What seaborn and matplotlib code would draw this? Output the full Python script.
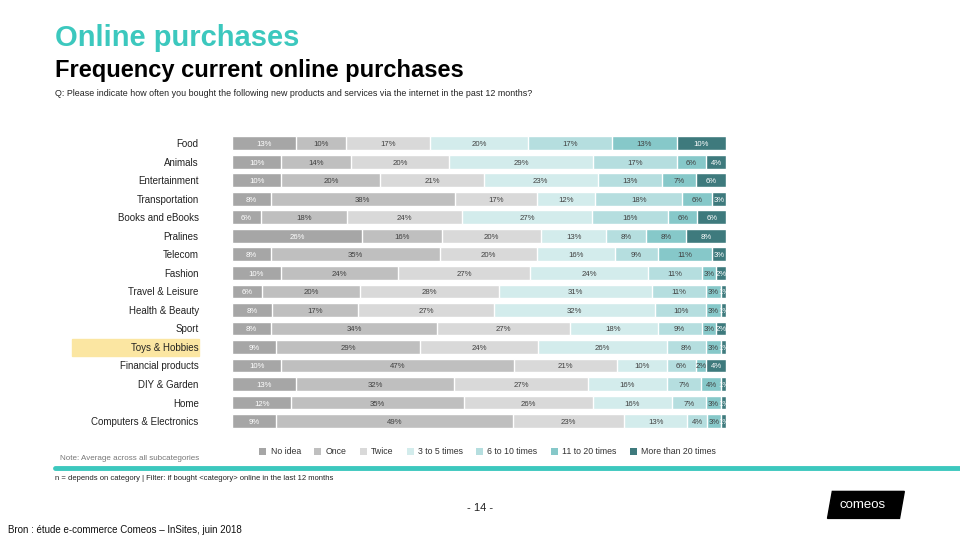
"""
Online purchases - frequency current online purchases (stacked 100% bars).
"""

import matplotlib

matplotlib.use("Agg")

import matplotlib.pyplot as plt
import numpy as np
import pandas as pd
import seaborn as sns
from matplotlib.patches import Patch, Polygon, Rectangle

CATEGORIES = [
    "Food", "Animals", "Entertainment", "Transportation", "Books and eBooks",
    "Pralines", "Telecom", "Fashion", "Travel & Leisure", "Health & Beauty",
    "Sport", "Toys & Hobbies", "Financial products", "DIY & Garden", "Home",
    "Computers & Electronics",
]

SEGMENTS = ["No idea", "Once", "Twice", "3 to 5 times", "6 to 10 times",
            "11 to 20 times", "More than 20 times"]

no_idea = [13, 10, 10, 8, 6, 26, 8, 10, 6, 8, 8, 9, 10, 13, 12, 9]
once = [10, 14, 20, 38, 18, 16, 35, 24, 20, 17, 34, 29, 47, 32, 35, 49]
twice = [17, 20, 21, 17, 24, 20, 20, 27, 28, 27, 27, 24, 21, 27, 26, 23]
three_to_five = [20, 29, 23, 12, 27, 13, 16, 24, 31, 32, 18, 26, 10, 16, 16, 13]
six_to_ten = [17, 17, 13, 18, 16, 8, 9, 11, 11, 10, 9, 8, 6, 7, 7, 4]
eleven_to_twenty = [13, 6, 7, 6, 6, 8, 11, 3, 3, 3, 3, 3, 2, 4, 3, 3]
more_than_twenty = [10, 4, 6, 3, 6, 8, 3, 2, 1, 1, 2, 1, 4, 1, 1, 1]

COLORS = ["#a6a6a6", "#bfbfbf", "#d9d9d9", "#d3ecec", "#b5dedf", "#86c8c9", "#3e7a7d"]
LABEL_COLORS = ["white", "#404040", "#404040", "#404040", "#404040", "#404040", "white"]
TEAL = "#3cc8be"
FONT = ["Liberation Sans", "DejaVu Sans"]


def main():
    sns.set_theme(style="white")
    plt.rcParams["font.family"] = FONT

    df = pd.DataFrame(
        {
            SEGMENTS[0]: no_idea,
            SEGMENTS[1]: once,
            SEGMENTS[2]: twice,
            SEGMENTS[3]: three_to_five,
            SEGMENTS[4]: six_to_ten,
            SEGMENTS[5]: eleven_to_twenty,
            SEGMENTS[6]: more_than_twenty,
        },
        index=CATEGORIES,
    )
    # bars are drawn as 100% stacked, labels keep the published rounded values
    widths = df.div(df.sum(axis=1), axis=0) * 100
    cum = widths.cumsum(axis=1)

    fig = plt.figure(figsize=(9.6, 5.4), dpi=100)
    ax = fig.add_axes([0.2417, 0.2031, 0.5146, 0.549])
    ax.patch.set_alpha(0)

    # highlight behind "Toys & Hobbies"
    fig.patches.append(Rectangle((0.075, 0.3407), 0.1323, 0.0315,
                                 transform=fig.transFigure, color="#fbe6a2",
                                 zorder=-1))

    # seaborn stacked bars: draw cumulative totals from the right-most segment down
    for i in reversed(range(len(SEGMENTS))):
        sns.barplot(x=cum.iloc[:, i].values, y=CATEGORIES, orient="h",
                    color=COLORS[i], saturation=1, width=0.74, ax=ax)

    ypos = np.arange(len(CATEGORIES))
    for i, seg in enumerate(SEGMENTS):
        centers = cum[seg] - widths[seg] / 2
        for y, xc, v in zip(ypos, centers, df[seg]):
            ax.text(xc, y + 0.08, f"{v}%", ha="center", va="center",
                    fontsize=5.6, color=LABEL_COLORS[i])

    ax.set_xlim(0, 100)
    ax.set_ylim(len(CATEGORIES) - 0.5, -0.5)
    ax.set_xlabel("")
    ax.set_ylabel("")
    ax.set_xticks([])
    ax.tick_params(axis="y", length=0, pad=24, labelsize=7, labelcolor="#222222")
    for s in ax.spines.values():
        s.set_visible(False)

    # legend
    handles = [Patch(facecolor=c, edgecolor="none") for c in COLORS]
    fig.legend(handles, SEGMENTS, loc="center", bbox_to_anchor=(0.508, 0.163),
               ncol=7, frameon=False, fontsize=6.3, handlelength=0.8,
               handleheight=0.8, handletextpad=0.5, columnspacing=1.5,
               labelcolor="#333333")

    # header
    fig.text(0.057, 0.93, "Online purchases", fontsize=21, fontweight="bold",
             color=TEAL, va="center")
    fig.text(0.057, 0.87, "Frequency current online purchases", fontsize=17,
             fontweight="bold", color="black", va="center")
    fig.text(0.057, 0.826,
             "Q: Please indicate how often you bought the following new products "
             "and services via the internet in the past 12 months?",
             fontsize=6.4, color="#222222", va="center")

    # footer
    fig.text(0.062, 0.15, "Note: Average across all subcategories", fontsize=5.8,
             color="#777777", va="center")
    fig.add_artist(plt.Line2D([0.057, 1.0], [0.133, 0.133], color=TEAL, lw=3.5,
                              transform=fig.transFigure))
    fig.text(0.057, 0.113,
             "n = depends on category | Filter: if bought <category> online in "
             "the last 12 months", fontsize=5.5, color="#222222", va="center")
    fig.text(0.5, 0.059, "- 14 -", fontsize=8, color="#222222", ha="center",
             va="center")
    fig.text(0.008, 0.019, "Bron : étude e-commerce Comeos – InSites, juin 2018",
             fontsize=7, color="#111111", va="center")

    # comeos logo block
    logo = Polygon([(0.862, 0.04), (0.937, 0.04), (0.942, 0.09), (0.867, 0.09)],
                   closed=True, transform=fig.transFigure, color="black")
    fig.patches.append(logo)
    fig.text(0.899, 0.065, "comeos", fontsize=9.5, color="white",
             ha="center", va="center")

    fig.savefig("out.png", dpi=100)
    plt.close(fig)


if __name__ == "__main__":
    main()
